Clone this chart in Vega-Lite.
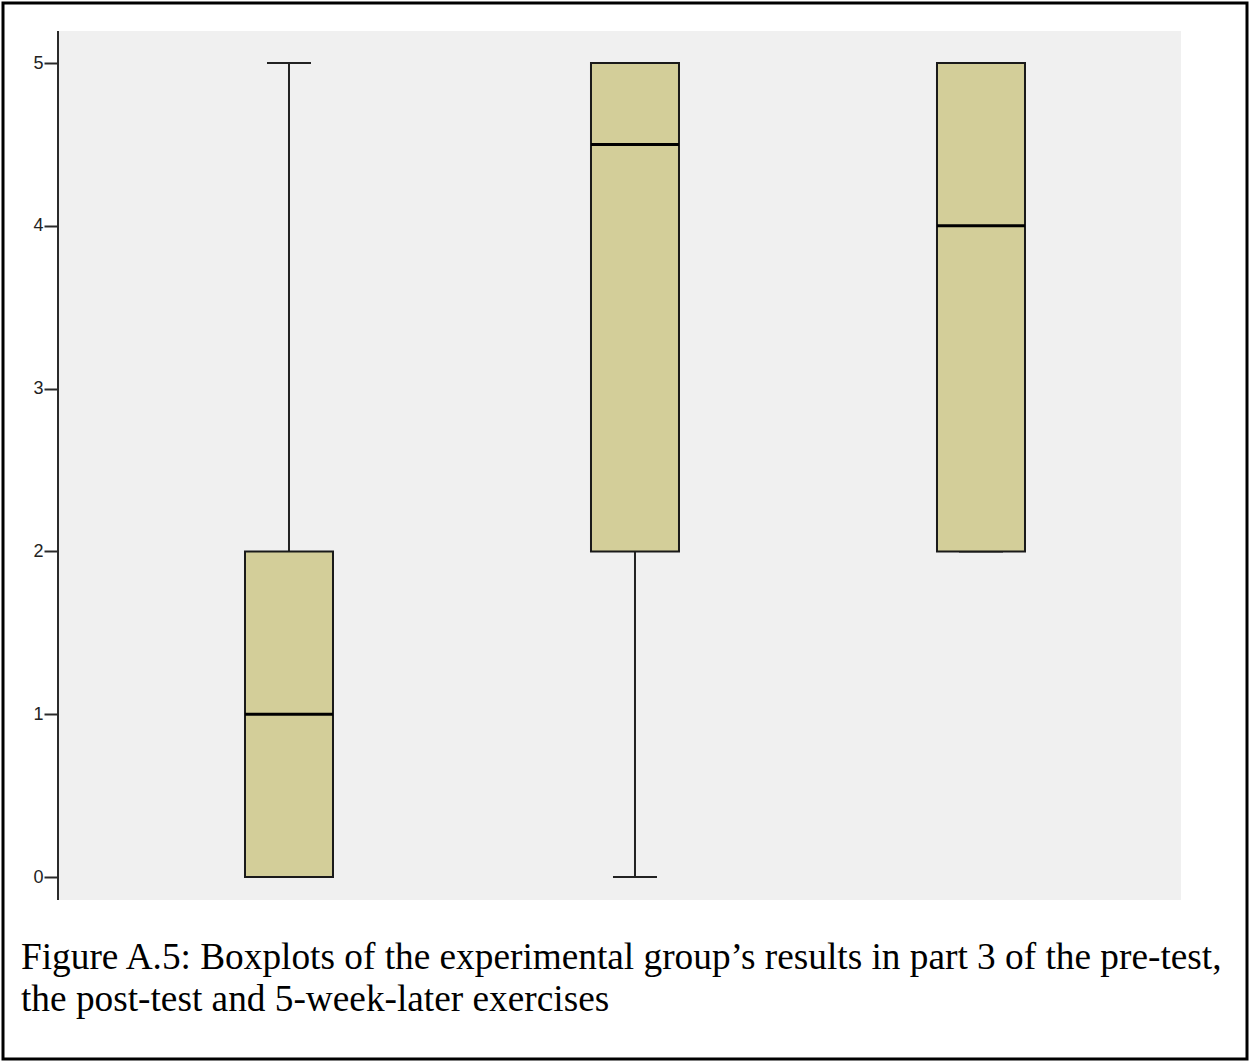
{
  "$schema": "https://vega.github.io/schema/vega-lite/v6.json",
  "width": 1244,
  "height": 1056,
  "autosize": "none",
  "padding": {"left": 3, "top": 3, "right": 3, "bottom": 4},
  "background": "white",
  "config": {
    "view": {"stroke": "black", "strokeWidth": 3, "fill": "white"},
    "axisX": {"disable": true}
  },
  "title": {
    "text": ["Figure A.5: Boxplots of the experimental group’s results in part 3 of the pre-test,", "the post-test and 5-week-later exercises"],
    "orient": "bottom",
    "anchor": "start",
    "frame": "group",
    "offset": -90,
    "dx": 18,
    "baseline": "alphabetic",
    "font": "Liberation Serif",
    "fontSize": 37.3,
    "fontWeight": "normal",
    "color": "black",
    "lineHeight": 41.5
  },
  "data": {
    "values": [
      {"test": "Pre-test", "min": 0, "q1": 0, "median": 1, "q3": 2, "max": 5},
      {"test": "Post-test", "min": 0, "q1": 2, "median": 4.5, "q3": 5, "max": 5},
      {"test": "5-week-later", "min": 2, "q1": 2, "median": 4, "q3": 5, "max": 5}
    ]
  },
  "layer": [
    {
      "data": {"values": [{"panel": "plot area"}]},
      "mark": {"type": "rect", "fill": "#f0f0f0", "clip": false},
      "encoding": {
        "x": {"datum": "Pre-test", "bandPosition": -0.1676, "type": "nominal",
              "scale": {"type": "band", "domain": ["Pre-test", "Post-test", "5-week-later"], "paddingInner": 0, "paddingOuter": 0.2977, "align": 0.5485}},
        "x2": {"datum": "5-week-later", "bandPosition": 1.078},
        "y": {"datum": -0.141, "type": "quantitative", "scale": {"domain": [-1.118, 5.369], "nice": false, "zero": false},
              "axis": {"title": null, "values": [0, 1, 2, 3, 4, 5], "offset": -55, "domain": false, "grid": false, "tickSize": 14, "tickWidth": 2, "tickColor": "#2a2a2a", "labelFont": "Liberation Sans", "labelFontSize": 18, "labelColor": "#222222", "labelPadding": 1}},
        "y2": {"datum": 5.197}
      }
    },
    {
      "data": {"values": [{"panel": "plot area"}]},
      "mark": {"type": "rule", "stroke": "#2a2a2a", "strokeWidth": 2},
      "encoding": {
        "x": {"datum": "Pre-test", "bandPosition": -0.1676, "type": "nominal"},
        "y": {"datum": -0.141, "type": "quantitative",
              "axis": {"title": null, "values": [0, 1, 2, 3, 4, 5], "offset": -55, "domain": false, "grid": false, "tickSize": 14, "tickWidth": 2, "tickColor": "#2a2a2a", "labelFont": "Liberation Sans", "labelFontSize": 18, "labelColor": "#222222", "labelPadding": 1}},
        "y2": {"datum": 5.197}
      }
    },
    {
      "mark": {"type": "rule", "stroke": "#222222", "strokeWidth": 2},
      "encoding": {
        "x": {"field": "test", "type": "nominal", "sort": null},
        "y": {"field": "min", "type": "quantitative",
              "axis": {"title": null, "values": [0, 1, 2, 3, 4, 5], "offset": -55, "domain": false, "grid": false, "tickSize": 14, "tickWidth": 2, "tickColor": "#2a2a2a", "labelFont": "Liberation Sans", "labelFontSize": 18, "labelColor": "#222222", "labelPadding": 1}},
        "y2": {"field": "max"}
      }
    },
    {
      "mark": {"type": "tick", "color": "#222222", "thickness": 2, "size": 44, "opacity": 1},
      "encoding": {
        "x": {"field": "test", "type": "nominal", "sort": null},
        "y": {"field": "min", "type": "quantitative",
              "axis": {"title": null, "values": [0, 1, 2, 3, 4, 5], "offset": -55, "domain": false, "grid": false, "tickSize": 14, "tickWidth": 2, "tickColor": "#2a2a2a", "labelFont": "Liberation Sans", "labelFontSize": 18, "labelColor": "#222222", "labelPadding": 1}}
      }
    },
    {
      "mark": {"type": "tick", "color": "#222222", "thickness": 2, "size": 44, "opacity": 1},
      "encoding": {
        "x": {"field": "test", "type": "nominal", "sort": null},
        "y": {"field": "max", "type": "quantitative",
              "axis": {"title": null, "values": [0, 1, 2, 3, 4, 5], "offset": -55, "domain": false, "grid": false, "tickSize": 14, "tickWidth": 2, "tickColor": "#2a2a2a", "labelFont": "Liberation Sans", "labelFontSize": 18, "labelColor": "#222222", "labelPadding": 1}}
      }
    },
    {
      "mark": {"type": "bar", "fill": "#d3ce99", "stroke": "#1a1a1a", "strokeWidth": 2, "size": 88},
      "encoding": {
        "x": {"field": "test", "type": "nominal", "sort": null},
        "y": {"field": "q1", "type": "quantitative",
              "axis": {"title": null, "values": [0, 1, 2, 3, 4, 5], "offset": -55, "domain": false, "grid": false, "tickSize": 14, "tickWidth": 2, "tickColor": "#2a2a2a", "labelFont": "Liberation Sans", "labelFontSize": 18, "labelColor": "#222222", "labelPadding": 1}},
        "y2": {"field": "q3"}
      }
    },
    {
      "mark": {"type": "tick", "color": "#000000", "thickness": 3, "size": 88, "opacity": 1},
      "encoding": {
        "x": {"field": "test", "type": "nominal", "sort": null},
        "y": {"field": "median", "type": "quantitative",
              "axis": {"title": null, "values": [0, 1, 2, 3, 4, 5], "offset": -55, "domain": false, "grid": false, "tickSize": 14, "tickWidth": 2, "tickColor": "#2a2a2a", "labelFont": "Liberation Sans", "labelFontSize": 18, "labelColor": "#222222", "labelPadding": 1}}
      }
    }
  ]
}
